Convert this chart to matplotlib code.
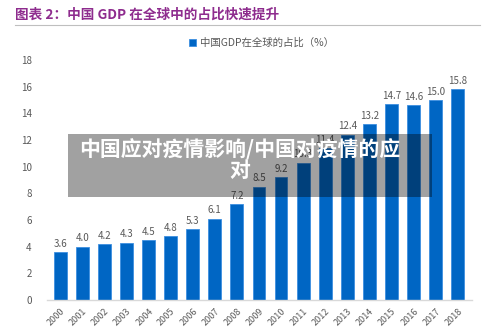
import matplotlib
matplotlib.use('Agg')
import matplotlib.pyplot as plt
from matplotlib.patches import Rectangle

plt.rcParams['font.family'] = ['Noto Sans CJK SC', 'DejaVu Sans']

# data
years = ['2000', '2001', '2002', '2003', '2004', '2005', '2006', '2007', '2008', '2009',
         '2010', '2011', '2012', '2013', '2014', '2015', '2016', '2017', '2018']
share = [3.6, 4.0, 4.2, 4.3, 4.5, 4.8, 5.3, 6.1, 7.2, 8.5,
         9.2, 10.3, 11.4, 12.4, 13.2, 14.7, 14.6, 15.0, 15.8]
yticks = [0, 2, 4, 6, 8, 10, 12, 14, 16, 18]

title = '图表 2：中国 GDP 在全球中的占比快速提升'
legend_label = '中国GDP在全球的占比（%）'
overlay = '中国应对疫情影响/中国对疫情的应\n对'

blue = '#0066c4'
grey_txt = '#595959'

fig = plt.figure(figsize=(5, 3.32), dpi=100)
ax = fig.add_axes([47 / 500, 32 / 332, 425 / 500, 240 / 332])

x = list(range(len(years)))
bars = ax.bar(x, share, width=0.58, color=blue, edgecolor='#3d8fe0', linewidth=0.6,
              label=legend_label)
for xi, v in zip(x, share):
    ax.text(xi, v + 0.25, '%.1f' % v, ha='center', va='bottom', fontsize=7, color=grey_txt)

ax.set_xlim(-0.6, len(years) - 0.35)
ax.set_ylim(0, 18)
ax.set_yticks(yticks)
ax.set_yticklabels([str(t) for t in yticks], fontsize=7, color=grey_txt)
ax.set_xticks(x)
ax.set_xticklabels(years, rotation=45, ha='right', rotation_mode='anchor', fontsize=6.5,
                   color=grey_txt)
ax.tick_params(axis='x', length=0, pad=5)
ax.tick_params(axis='y', length=0, pad=11)
for s in ['top', 'right', 'left']:
    ax.spines[s].set_visible(False)
ax.spines['bottom'].set_color('#d9d9d9')
ax.spines['bottom'].set_linewidth(1.0)

ax.legend(loc='center', bbox_to_anchor=(0.505, 1.07), frameon=False, fontsize=7.5,
          handlelength=0.7, handleheight=0.7, handletextpad=0.4, labelcolor=grey_txt)

# header
fig.text(15 / 500, 1 - 15 / 332, title, fontsize=9.8, color='#8e2c8e', fontweight='bold',
         ha='left', va='center')
fig.add_artist(plt.Line2D([15 / 500, 480 / 500], [1 - 25 / 332, 1 - 25 / 332],
                          color='#bfbfbf', linewidth=0.8))

# watermark box
fig.add_artist(Rectangle((68 / 500, 1 - 197 / 332), 364 / 500, 63 / 332,
                         transform=fig.transFigure, facecolor='black', alpha=0.37,
                         edgecolor='none'))
fig.text(240 / 500, 1 - 160 / 332, overlay, fontsize=15, color='white', fontweight='bold',
         ha='center', va='center', linespacing=0.95)

fig.savefig('out.png', dpi=100)
